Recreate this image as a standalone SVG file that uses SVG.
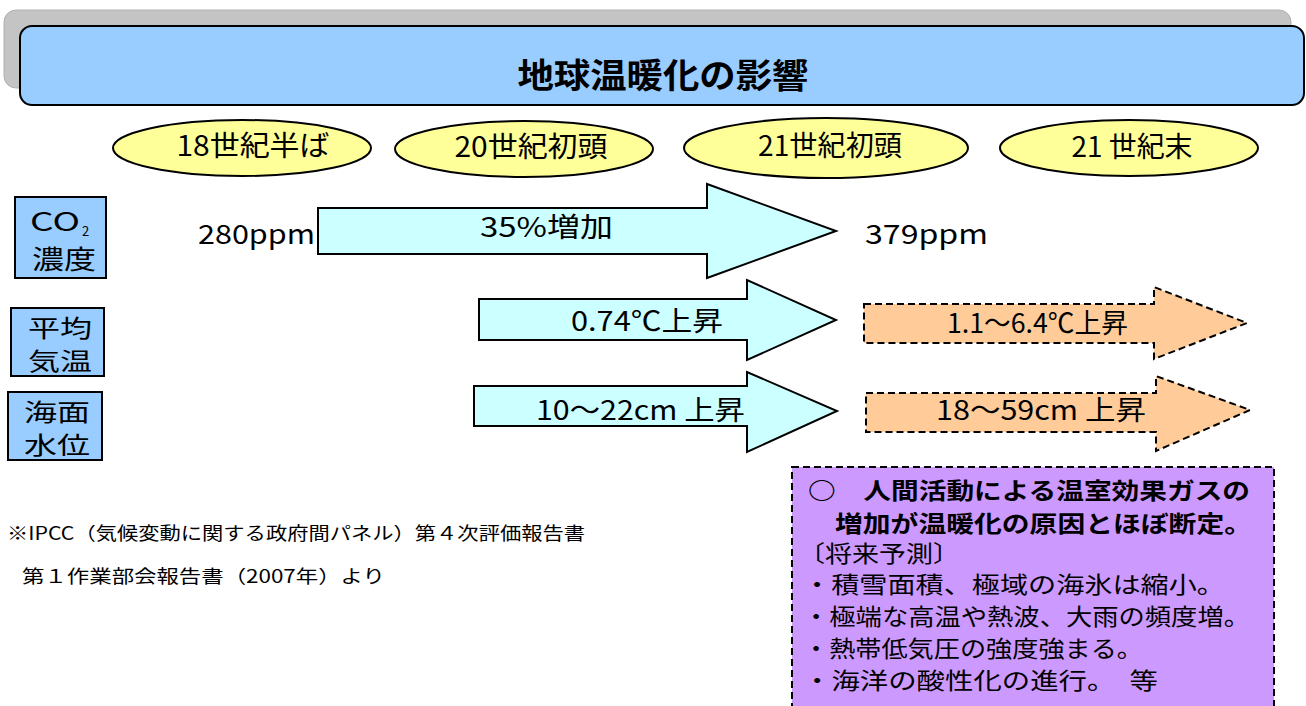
<svg xmlns="http://www.w3.org/2000/svg" width="1306" height="706" viewBox="0 0 1306 706">
<style>
.t{font-family:"Noto Sans CJK JP","Noto Sans",sans-serif;fill:#000}
.ell{fill:#FFFF99;stroke:#000;stroke-width:2}
.lbl{fill:#99CCFF;stroke:#000;stroke-width:2}
.arr{fill:#CCFFFF;stroke:#000;stroke-width:2;stroke-linejoin:miter}
.arrd{fill:#FFCC99;stroke:#000;stroke-width:2;stroke-dasharray:7 4}
</style>
<rect width="1306" height="706" fill="#fff"/>
<g id="title">
<rect x="4" y="10" width="1287" height="78" rx="12" fill="#C4C4C4" stroke="#B0B0B0"/>
<rect x="20" y="26" width="1284" height="79" rx="12" fill="#99CCFF" stroke="#000" stroke-width="2"/>
<text class="t" x="663" y="88" font-size="34" font-weight="bold" text-anchor="middle" textLength="291" lengthAdjust="spacingAndGlyphs">地球温暖化の影響</text>
</g>
<g id="era1"><ellipse class="ell" cx="242" cy="148" rx="129" ry="28"/><text class="t" x="253" y="156" font-size="28" text-anchor="middle" textLength="153" lengthAdjust="spacingAndGlyphs">18世紀半ば</text></g>
<g id="era2"><ellipse class="ell" cx="524" cy="149" rx="129" ry="28"/><text class="t" x="531" y="157" font-size="28" text-anchor="middle" textLength="153" lengthAdjust="spacingAndGlyphs">20世紀初頭</text></g>
<g id="era3"><ellipse class="ell" cx="826" cy="148" rx="142" ry="30"/><text class="t" x="830" y="156" font-size="28" text-anchor="middle" textLength="144" lengthAdjust="spacingAndGlyphs">21世紀初頭</text></g>
<g id="era4"><ellipse class="ell" cx="1129" cy="148" rx="129" ry="28"/><text class="t" x="1132" y="157" font-size="28" text-anchor="middle" textLength="121" lengthAdjust="spacingAndGlyphs">21 世紀末</text></g>

<g id="label-co2"><rect class="lbl" x="15" y="197" width="91" height="81"/>
<text class="t" x="30" y="231" font-size="26" textLength="50" lengthAdjust="spacingAndGlyphs">CO</text><text class="t" x="82" y="236" font-size="13">2</text>
<text class="t" x="32" y="269" font-size="26" textLength="64" lengthAdjust="spacingAndGlyphs">濃度</text></g>
<g id="label-temp"><rect class="lbl" x="11" y="308" width="93" height="68"/>
<text class="t" x="28" y="337" font-size="24" textLength="64" lengthAdjust="spacingAndGlyphs">平均</text>
<text class="t" x="28" y="370" font-size="24" textLength="64" lengthAdjust="spacingAndGlyphs">気温</text></g>
<g id="label-sea"><rect class="lbl" x="8" y="392" width="94" height="68"/>
<text class="t" x="24" y="421" font-size="24" textLength="66" lengthAdjust="spacingAndGlyphs">海面</text>
<text class="t" x="24" y="454" font-size="24" textLength="66" lengthAdjust="spacingAndGlyphs">水位</text></g>

<g id="connectors">
<path class="arr" d="M318,208 H707 V184 L836,231 L707,278 V254 H318 Z"/>
<path class="arr" d="M479,299 H747 V280 L836,320 L747,360 V340 H479 Z"/>
<path class="arr" d="M474,386 H747 V372 L837,411 L747,452 V426 H474 Z"/>
<path class="arrd" d="M864,304 H1154 V287 L1247,323 L1154,359 V343 H864 Z"/>
<path class="arrd" d="M866,393 H1156 V376 L1250,410 L1156,451 V432 H866 Z"/>
</g>

<g id="values">
<text class="t" x="198" y="244" font-size="27" textLength="117" lengthAdjust="spacingAndGlyphs">280ppm</text>
<text class="t" x="865" y="244" font-size="27" textLength="123" lengthAdjust="spacingAndGlyphs">379ppm</text>
<text class="t" x="480" y="237" font-size="27" textLength="133" lengthAdjust="spacingAndGlyphs">35%増加</text>
<text class="t" x="571" y="331" font-size="27" textLength="152" lengthAdjust="spacingAndGlyphs">0.74℃上昇</text>
<text class="t" x="536" y="420" font-size="27" textLength="209" lengthAdjust="spacingAndGlyphs">10〜22cm 上昇</text>
<text class="t" x="947" y="333" font-size="27" textLength="181" lengthAdjust="spacingAndGlyphs">1.1〜6.4℃上昇</text>
<text class="t" x="936" y="420" font-size="27" textLength="210" lengthAdjust="spacingAndGlyphs">18〜59cm 上昇</text>
</g>

<g id="summary">
<rect x="792" y="467" width="482" height="250" fill="#CC99FF" stroke="#000" stroke-width="2" stroke-dasharray="7 4"/>
<text class="t" x="808" y="499" font-size="23" font-weight="bold" textLength="442" lengthAdjust="spacingAndGlyphs">○　人間活動による温室効果ガスの</text>
<text class="t" x="835" y="532" font-size="23" font-weight="bold" textLength="417" lengthAdjust="spacingAndGlyphs">増加が温暖化の原因とほぼ断定。</text>
<text class="t" x="798" y="562" font-size="23" textLength="162" lengthAdjust="spacingAndGlyphs">〔将来予測〕</text>
<text class="t" x="803" y="593" font-size="23" textLength="422" lengthAdjust="spacingAndGlyphs">・積雪面積、極域の海氷は縮小。</text>
<text class="t" x="803" y="625" font-size="23" textLength="447" lengthAdjust="spacingAndGlyphs">・極端な高温や熱波、大雨の頻度増。</text>
<text class="t" x="803" y="657" font-size="23" textLength="340" lengthAdjust="spacingAndGlyphs">・熱帯低気圧の強度強まる。</text>
<text class="t" x="803" y="689" font-size="23" textLength="355" lengthAdjust="spacingAndGlyphs">・海洋の酸性化の進行。　等</text>
</g>

<g id="footnote">
<text class="t" x="7" y="540" font-size="18" textLength="578" lengthAdjust="spacingAndGlyphs">※IPCC（気候変動に関する政府間パネル）第４次評価報告書</text>
<text class="t" x="22" y="583" font-size="18" textLength="363" lengthAdjust="spacingAndGlyphs">第１作業部会報告書（2007年）より</text>
</g>
</svg>
